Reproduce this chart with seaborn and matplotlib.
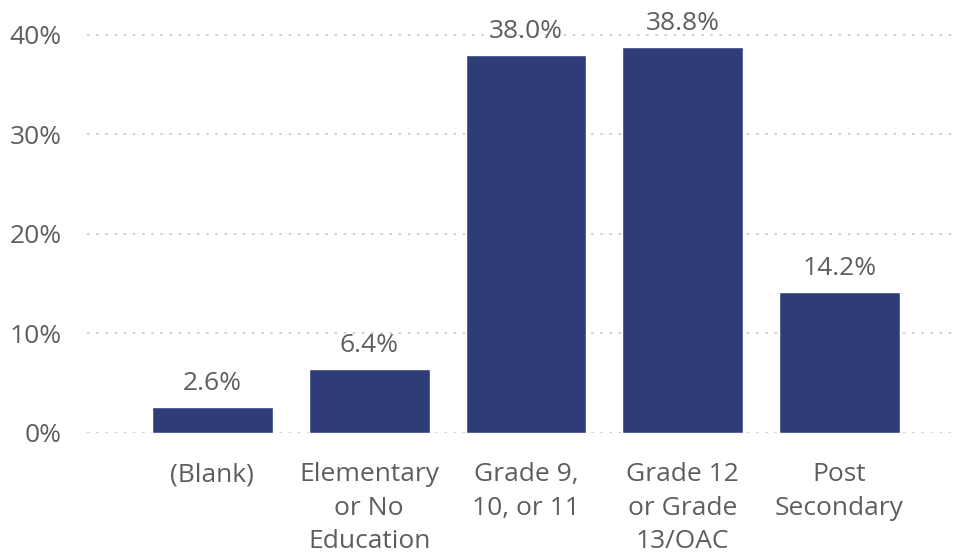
import matplotlib
matplotlib.use("Agg")
import matplotlib.pyplot as plt
import seaborn as sns
import pandas as pd

categories = ["(Blank)", "Elementary\nor No\nEducation", "Grade 9,\n10, or 11",
              "Grade 12\nor Grade\n13/OAC", "Post\nSecondary"]
shares = [2.6, 6.4, 38.0, 38.8, 14.2]
y_ticks = [0, 10, 20, 30, 40]
y_tick_labels = ["0%", "10%", "20%", "30%", "40%"]

bar_color = "#2E3C77"
text_color = "#605E5C"

sns.set_theme(style="white")
plt.rcParams["font.family"] = ["Open Sans", "DejaVu Sans"]

df = pd.DataFrame({"category": categories, "share": shares})

fig = plt.figure(figsize=(9.54, 5.59), dpi=100)
ax = fig.add_axes([87 / 954, 126 / 559, 1 - 87 / 954, 418 / 559])

sns.barplot(data=df, x="category", y="share", color=bar_color, width=0.77,
            saturation=1, ax=ax)

ax.set_ylim(0, 42)
ax.set_xlim(-0.8, 4.73)
ax.set_yticks(y_ticks)
ax.set_yticklabels(y_tick_labels)
ax.yaxis.grid(True, linestyle=(0, (1.5, 4)), color="#C8C8C8", linewidth=1.2)
ax.set_axisbelow(True)
for s in ax.spines.values():
    s.set_visible(False)
ax.set_xlabel("")
ax.set_ylabel("")
ax.tick_params(axis="both", length=0, labelsize=19, labelcolor=text_color)
ax.tick_params(axis="x", pad=21)
ax.tick_params(axis="y", pad=18)
for lbl in ax.get_xticklabels():
    lbl.set_linespacing(1.45)

for i, v in enumerate(shares):
    ax.annotate(f"{v:.1f}%", (i, v), xytext=(0, 8), textcoords="offset points",
                ha="center", va="bottom", fontsize=19, color=text_color)

fig.savefig("out.png", dpi=100)
